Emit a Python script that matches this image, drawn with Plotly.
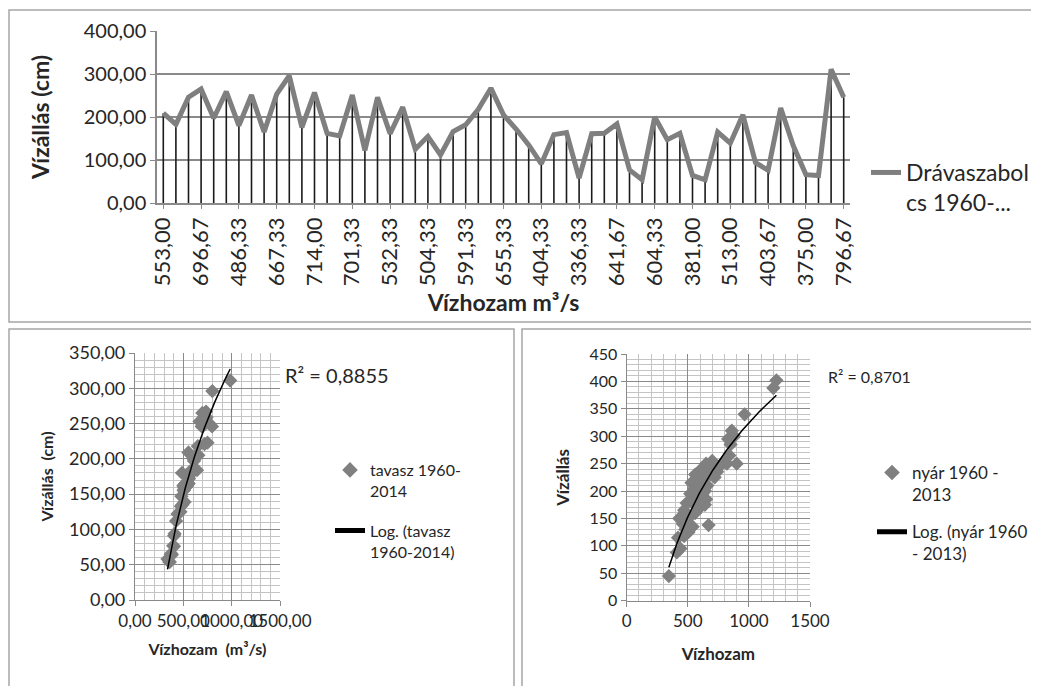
import numpy as np
import plotly.graph_objects as go

W, H = 1039, 686
OFF = 8  # the page body adds an 8 px margin around the figure
FONT = "Lato"
TXT = "#262626"

# ---------------- data ----------------
# top chart: Drávaszabolcs spring series (water level vs. discharge category)
flow_tick_labels = ["553,00", "696,67", "486,33", "667,33", "714,00", "701,33", "532,33",
                    "504,33", "591,33", "655,33", "404,33", "336,33", "641,67", "604,33",
                    "381,00", "513,00", "403,67", "375,00", "796,67"]
water_level_spring = [209, 183, 246, 265, 197, 259, 180, 251, 165, 253,
                      296, 176, 257, 162, 156, 251, 122, 246, 161, 223,
                      125, 155, 112, 166, 182, 218, 267, 205, 172, 135,
                      91, 159, 164, 58, 161, 162, 184, 77, 54, 200,
                      147, 162, 64, 54, 165, 139, 205, 94, 76, 221,
                      133, 66, 64, 311, 246]
spring_flow = [553.00, 575, 700, 696.67, 610, 740, 486.33, 760, 520, 667.33,
               800, 560, 714.00, 540, 505, 701.33, 440, 690, 532.33, 750,
               470, 504.33, 425, 545, 591.33, 650, 735, 655.33, 560, 490,
               404.33, 510, 545, 336.33, 520, 500, 641.67, 395, 360, 604.33,
               480, 530, 381.00, 355, 555, 513.00, 630, 410, 403.67, 720,
               475, 375.00, 370, 985, 796.67]

# bottom right: summer series
summer_flow = [345, 410, 440, 420, 470, 505, 430, 540, 670, 470,
               490, 560, 600, 520, 555, 640, 650, 580, 600, 560,
               620, 630, 610, 660, 680, 700, 720, 650, 590, 760,
               800, 820, 900, 840, 830, 860, 880, 850, 965, 1200,
               1225, 530, 570, 460, 500, 620, 740, 640, 560, 480,
               690, 610, 530, 660]
summer_level = [45, 88, 95, 115, 118, 125, 150, 135, 138, 165,
                178, 160, 170, 195, 205, 175, 185, 215, 225, 230,
                195, 210, 240, 230, 245, 255, 225, 250, 200, 245,
                255, 250, 250, 265, 295, 310, 300, 285, 340, 388,
                402, 180, 190, 140, 150, 220, 235, 200, 175, 130,
                230, 185, 215, 210]

r2_spring = "R² = 0,8855"
r2_summer = "R² = 0,8701"


def px(x):
    return (x - OFF) / W


def py(y):
    return 1 - (y - OFF) / H


fig = go.Figure()

# ---------------- top chart ----------------
idx = list(range(len(water_level_spring)))
drop_x, drop_y = [], []
for i, v in zip(idx, water_level_spring):
    drop_x += [i, i, None]
    drop_y += [0, v, None]
fig.add_trace(go.Scatter(x=drop_x, y=drop_y, mode="lines",
                         line=dict(color="#1a1a1a", width=1.6),
                         showlegend=False, hoverinfo="skip", xaxis="x", yaxis="y"))
fig.add_trace(go.Scatter(x=idx, y=water_level_spring, mode="lines",
                         line=dict(color="#7f7f7f", width=5),
                         name="Drávaszabol<br>cs 1960-...", xaxis="x", yaxis="y",
                         legend="legend"))

# ---------------- bottom left ----------------
fig.add_trace(go.Scatter(x=spring_flow, y=water_level_spring, mode="markers",
                         marker=dict(symbol="diamond", size=11, color="#808080"),
                         name="tavasz 1960-<br>2014", xaxis="x2", yaxis="y2",
                         legend="legend2", legendgroup="s1"))
c1 = np.polyfit(np.log(spring_flow), water_level_spring, 1)
xs1 = np.linspace(min(spring_flow), max(spring_flow), 120)
fig.add_trace(go.Scatter(x=xs1, y=c1[0] * np.log(xs1) + c1[1], mode="lines",
                         line=dict(color="#000000", width=1.5),
                         name="Log. (tavasz<br>1960-2014)", xaxis="x2", yaxis="y2",
                         legend="legend2", legendgroup="s2"))

# ---------------- bottom right ----------------
fig.add_trace(go.Scatter(x=summer_flow, y=summer_level, mode="markers",
                         marker=dict(symbol="diamond", size=11, color="#808080"),
                         name="nyár 1960 -<br>2013", xaxis="x3", yaxis="y3",
                         legend="legend3", legendgroup="u1"))
c2 = np.polyfit(np.log(summer_flow), summer_level, 1)
xs2 = np.linspace(min(summer_flow), max(summer_flow), 120)
fig.add_trace(go.Scatter(x=xs2, y=c2[0] * np.log(xs2) + c2[1], mode="lines",
                         line=dict(color="#000000", width=1.5),
                         name="Log. (nyár 1960<br>- 2013)", xaxis="x3", yaxis="y3",
                         legend="legend3", legendgroup="u2"))

GRID = "#8a8a8a"
MINOR = "#c4c4c4"
AXL = "#8a8a8a"

common = dict(automargin=False, zeroline=False, showline=True, ticks="outside",
              tickcolor=AXL, linecolor=AXL)

fig.update_layout(
    template="none",
    width=W, height=H, autosize=False,
    margin=dict(l=0, r=0, t=0, b=0, pad=0, autoexpand=False),
    paper_bgcolor="white", plot_bgcolor="white",
    separators=", ",
    font=dict(family=FONT, color=TXT),
    xaxis=dict(domain=[px(157), px(850)], range=[-0.5, len(idx) - 0.5],
               tickmode="array", tickvals=idx[::3], ticktext=flow_tick_labels,
               tickangle=-90, tickfont=dict(size=22), showgrid=False,
               linewidth=1.5, ticklen=4,
               title=dict(text="Vízhozam m³/s", font=dict(size=23, weight="bold"), standoff=10),
               anchor="y", **common),
    yaxis=dict(domain=[py(203), py(31)], range=[0, 400], dtick=100, tickformat=".2f",
               tickfont=dict(size=20), showgrid=True, gridcolor=GRID, gridwidth=1.5,
               linewidth=1.5, ticklen=5,
               title=dict(text="Vízállás (cm)", font=dict(size=23, weight="bold"), standoff=28),
               anchor="x", **common),
    xaxis2=dict(domain=[px(135), px(280)], range=[0, 1500], dtick=500, tickformat=".2f",
                tickangle=0, tickfont=dict(size=17), showgrid=True, gridcolor=GRID,
                minor=dict(dtick=100, showgrid=True, gridcolor=MINOR, gridwidth=1),
                linewidth=1.2, ticklen=5,
                title=dict(text="Vízhozam  (m³/s)", font=dict(size=16, weight="bold"), standoff=14),
                anchor="y2", **common),
    yaxis2=dict(domain=[py(600), py(353)], range=[0, 350], dtick=50, tickformat=".2f",
                tickfont=dict(size=18), showgrid=True, gridcolor=GRID,
                minor=dict(dtick=10, showgrid=True, gridcolor=MINOR, gridwidth=1),
                linewidth=1.2, ticklen=5,
                title=dict(text="Vízállás  (cm)", font=dict(size=16, weight="bold"), standoff=11),
                anchor="x2", **common),
    xaxis3=dict(domain=[px(626.7), px(810)], range=[0, 1500], dtick=500,
                tickangle=0, tickfont=dict(size=17), showgrid=True, gridcolor=GRID,
                minor=dict(dtick=100, showgrid=True, gridcolor=MINOR, gridwidth=1),
                linewidth=1.2, ticklen=5,
                title=dict(text="Vízhozam", font=dict(size=17, weight="bold"), standoff=17),
                anchor="y3", **common),
    yaxis3=dict(domain=[py(600.7), py(354)], range=[0, 450], dtick=50,
                tickfont=dict(size=16), showgrid=True, gridcolor=GRID,
                minor=dict(dtick=10, showgrid=True, gridcolor=MINOR, gridwidth=1),
                linewidth=1.2, ticklen=5,
                title=dict(text="Vízállás", font=dict(size=17, weight="bold"), standoff=15),
                anchor="x3", **common),
    legend=dict(x=px(866), y=py(151), xanchor="left", yanchor="top",
                font=dict(size=23), valign="top", bgcolor="rgba(0,0,0,0)"),
    legend2=dict(x=px(330), y=py(453), xanchor="left", yanchor="top",
                 font=dict(size=16), valign="top", tracegroupgap=16,
                 itemsizing="constant", bgcolor="rgba(0,0,0,0)"),
    legend3=dict(x=px(872), y=py(455), xanchor="left", yanchor="top",
                 font=dict(size=17), valign="top", tracegroupgap=12,
                 itemsizing="constant", bgcolor="rgba(0,0,0,0)"),
    annotations=[
        dict(text=r2_spring, x=px(283), y=py(375), xref="paper", yref="paper",
             xanchor="left", yanchor="middle", showarrow=False, font=dict(size=20)),
        dict(text=r2_summer, x=px(826), y=py(377), xref="paper", yref="paper",
             xanchor="left", yanchor="middle", showarrow=False, font=dict(size=16)),
    ],
    shapes=[
        dict(type="rect", xref="paper", yref="paper", x0=px(9), x1=px(1060),
             y0=py(322), y1=py(10), line=dict(color="#a6a6a6", width=1.5)),
        dict(type="rect", xref="paper", yref="paper", x0=px(9), x1=px(514),
             y0=py(720), y1=py(329), line=dict(color="#a6a6a6", width=1.5)),
        dict(type="rect", xref="paper", yref="paper", x0=px(522), x1=px(1060),
             y0=py(720), y1=py(329), line=dict(color="#a6a6a6", width=1.5)),
    ],
)

fig.write_html("out.html")
